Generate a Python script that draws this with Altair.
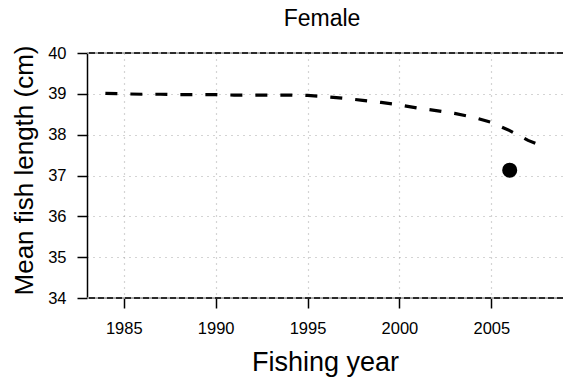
import altair as alt
import pandas as pd

years = list(range(1984, 2009))
mean_length = [39.01, 39.00, 38.99, 38.99, 38.98, 38.98, 38.98, 38.97, 38.97, 38.97,
               38.97, 38.96, 38.93, 38.89, 38.84, 38.79, 38.73, 38.65, 38.59, 38.52,
               38.43, 38.30, 38.10, 37.86, 37.68]
obs_year = [2006]
obs_length = [37.13]
x_ticks = [1985, 1990, 1995, 2000, 2005]
y_ticks = [34, 35, 36, 37, 38, 39, 40]
title = "Female"

FONT = "Liberation Sans"

line_df = pd.DataFrame({"year": years, "length": mean_length})
obs_df = pd.DataFrame({"year": obs_year, "length": obs_length})
frame_df = pd.DataFrame({"y": [y_ticks[0], y_ticks[-1]]})

xscale = alt.Scale(domain=[1983, 2008.9], nice=False, zero=False)
yscale = alt.Scale(domain=[34, 40], nice=False, zero=False)

xaxis = alt.Axis(values=x_ticks, format="d", title="Fishing year", domain=False,
                 tickSize=10, tickWidth=1.5, tickColor="black",
                 labelFontSize=16.5, labelFont=FONT, labelColor="black", labelPadding=12,
                 titleFontSize=27, titleFont=FONT, titleFontWeight="normal", titleColor="black",
                 titlePadding=13,
                 grid=True, gridDash=[1, 5], gridColor="#aaaaaa", gridWidth=1.2)
yaxis = alt.Axis(values=y_ticks, title="Mean fish length (cm)", domain=True,
                 domainColor="black", domainWidth=1.5,
                 tickSize=10, tickWidth=1.5, tickColor="black",
                 labelFontSize=16.5, labelFont=FONT, labelColor="black", labelPadding=11,
                 titleFontSize=26, titleFont=FONT, titleFontWeight="normal", titleColor="black",
                 titleX=-63, titleY=117, titleAlign="center", titleBaseline="middle", titleAngle=270,
                 grid=True, gridDash=[1, 5], gridColor="#aaaaaa", gridWidth=1.2)

line = alt.Chart(line_df).mark_line(color="black", strokeWidth=3.2, strokeDash=[12, 13]).encode(
    x=alt.X("year:Q", scale=xscale, axis=xaxis),
    y=alt.Y("length:Q", scale=yscale, axis=yaxis),
)

frame_gray = alt.Chart(frame_df).mark_rule(color="#999999", strokeWidth=1.5).encode(
    y=alt.Y("y:Q", scale=yscale)
)
frame_dash = alt.Chart(frame_df).mark_rule(color="black", strokeWidth=1.5, strokeDash=[6, 3]).encode(
    y=alt.Y("y:Q", scale=yscale)
)

points = alt.Chart(obs_df).mark_circle(color="black", size=227, opacity=1).encode(
    x=alt.X("year:Q", scale=xscale),
    y=alt.Y("length:Q", scale=yscale),
)

chart = alt.layer(frame_gray, frame_dash, line, points).properties(
    width=476, height=245,
    title=alt.TitleParams(title, fontSize=23, font=FONT, fontWeight="normal", color="black",
                          anchor="middle", offset=14, dx=-3),
    padding={"left": 87, "top": 53, "right": 0, "bottom": 89},
    autosize=alt.AutoSizeParams(type="none"),
).configure_view(stroke=None).configure(background="white")

chart.save("out.html", embed_options={"renderer": "svg", "actions": False})
